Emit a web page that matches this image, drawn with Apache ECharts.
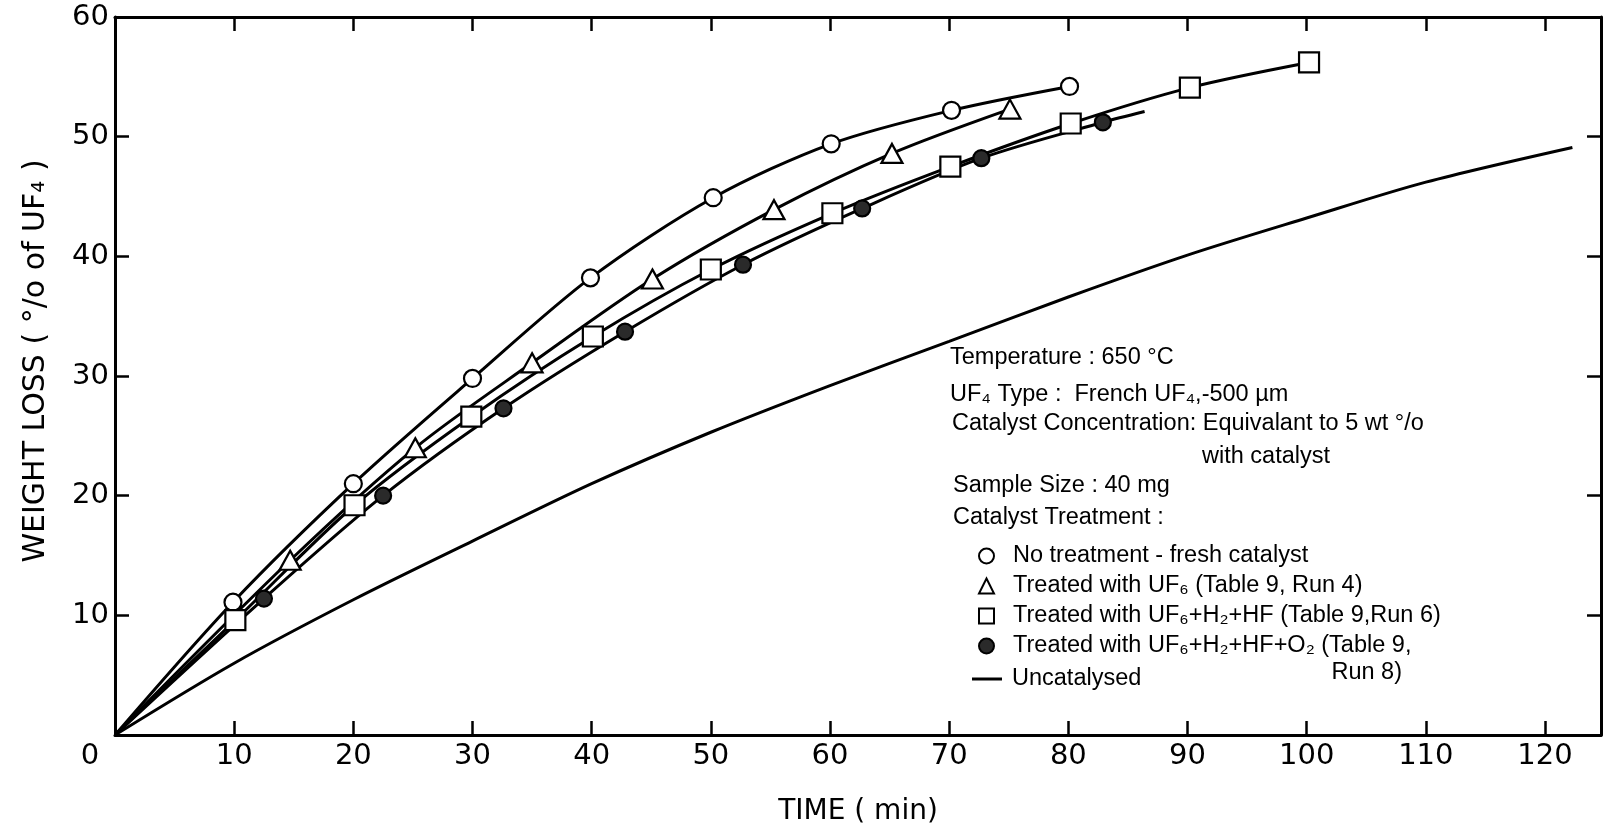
<!DOCTYPE html>
<html><head><meta charset="utf-8">
<script src="https://cdn.jsdelivr.net/npm/echarts@6/dist/echarts.min.js"></script>
<style>html,body{margin:0;padding:0;background:#fff}#c{width:1609px;height:827px}</style>
</head><body><div id="c"></div>
<script>
// ---- data ----
const origin = [0, 0];
const freshCatalyst = [[9.9,11.1],[20.0,21.0],[30.0,29.8],[39.9,38.2],[50.2,44.9],[60.1,49.4],[70.2,52.2],[80.1,54.2]];
const treatedUF6 = [[14.7,14.6],[25.2,24.0],[35.0,31.1],[45.1,38.1],[55.3,43.9],[65.2,48.6],[75.1,52.3]];
const treatedUF6H2HF = [[10.1,9.6],[20.1,19.2],[29.9,26.6],[40.1,33.3],[50.0,38.9],[60.2,43.6],[70.1,47.5],[80.2,51.1],[90.2,54.1],[100.2,56.2]];
const treatedUF6H2HFO2 = [[12.5,11.4],[22.5,20.0],[32.6,27.3],[42.8,33.7],[52.7,39.3],[62.7,44.0],[72.7,48.2],[82.9,51.2]];
const treatedO2CurveEnd = [86.4, 52.1];
const uncatalysed = [[0,0],[10,6.0],[20,11.3],[30,16.2],[40,21.0],[50,25.3],[60,29.2],[70,32.9],[80,36.6],[90,40.1],[100,43.2],[110,46.2],[122.3,49.1]];
const legendLabels = [
  'No treatment - fresh catalyst',
  'Treated with UF\u2086 (Table 9, Run 4)',
  'Treated with UF\u2086+H\u2082+HF (Table 9,Run 6)',
  'Treated with UF\u2086+H\u2082+HF+O\u2082 (Table 9,',
  'Uncatalysed'
];
const infoText = [
  'Temperature : 650 \u00B0C',
  'UF\u2084 Type :  French UF\u2084,-500 \u00B5m',
  'Catalyst Concentration: Equivalant to 5 wt \u00B0/o',
  'with catalyst',
  'Sample Size : 40 mg',
  'Catalyst Treatment :',
  'Run 8)'
];
const xTitle = 'TIME ( min)';
const yTitle = 'WEIGHT LOSS ( \u00B0/o of UF\u2084 )';

// ---- chart ----
const chart = echarts.init(document.getElementById('c'), null, {renderer: 'canvas'});
const TXT = '"Liberation Sans", Arial, sans-serif';
const NUM = '"DejaVu Sans", sans-serif';
const black = '#000';
const TXT_SIZE = 23.5;

function curve(data) {
  return {type: 'line', data: data, smooth: 0.3, symbol: 'none',
    lineStyle: {color: black, width: 3}, z: 2, silent: true};
}
function marks(name, data, symbol, size, fill) {
  return {type: 'scatter', name: name, data: data, symbol: symbol, symbolSize: size,
    itemStyle: {color: fill, borderColor: black, borderWidth: 2.2, opacity: 1}, z: 4, silent: true};
}
function txt(t, x, y, align) {
  return {type: 'text', x: x, y: y, silent: true,
    style: {text: t, font: TXT_SIZE + 'px ' + TXT, fill: black, align: align || 'left', verticalAlign: 'middle'}};
}

const axisLine = {show: true, onZero: false, lineStyle: {color: black, width: 3}};
const axisTick = {show: true, inside: true, length: 14, lineStyle: {color: black, width: 2.5}};
const legendText = {color: black, fontFamily: TXT, fontSize: TXT_SIZE, lineHeight: 22};

const option = {
  animation: false,
  backgroundColor: '#fff',
  grid: {left: 115, right: 8, top: 17, bottom: 92, containLabel: false, outerBoundsMode: 'none'},
  xAxis: [
    {type: 'value', position: 'bottom', min: 0, max: 124.7, interval: 10,
     axisLine: axisLine, axisTick: axisTick, splitLine: {show: false},
     axisLabel: {color: black, fontFamily: NUM, fontSize: 29, margin: 7, showMaxLabel: false,
       formatter: v => v === 0 ? '{z|0}' : String(v),
       rich: {z: {padding: [0, 50, 0, 0], fontFamily: NUM, fontSize: 29, color: black}}},
     name: xTitle, nameLocation: 'middle', nameGap: 63,
     nameTextStyle: {color: black, fontFamily: NUM, fontSize: 28}},
    {type: 'value', position: 'top', min: 0, max: 124.7, interval: 10,
     axisLine: axisLine, axisTick: axisTick, splitLine: {show: false}, axisLabel: {show: false}}
  ],
  yAxis: [
    {type: 'value', position: 'left', min: 0, max: 60, interval: 10,
     axisLine: axisLine, axisTick: axisTick, splitLine: {show: false},
     axisLabel: {color: black, fontFamily: NUM, fontSize: 29, margin: 6, showMinLabel: false},
     name: yTitle, nameLocation: 'middle', nameGap: 64,
     nameTextStyle: {color: black, fontFamily: NUM, fontSize: 30, padding: [0, 0, 0, 30]}},
    {type: 'value', position: 'right', min: 0, max: 60, interval: 10,
     axisLine: axisLine, axisTick: axisTick, splitLine: {show: false}, axisLabel: {show: false}}
  ],
  legend: [
    {orient: 'vertical', left: 973, top: 539, itemWidth: 15, itemHeight: 15, itemGap: 6,
     selectedMode: false, data: legendLabels.slice(0, 4),
     textStyle: Object.assign({padding: [0, 0, 0, 14]}, legendText)},
    {orient: 'vertical', left: 967, top: 662, itemWidth: 30, itemHeight: 3,
     selectedMode: false, data: [{name: legendLabels[4], icon: 'rect'}],
     itemStyle: {color: black, borderWidth: 0},
     textStyle: Object.assign({padding: [0, 0, 0, 5]}, legendText)}
  ],
  graphic: [
    txt(infoText[0], 950, 358),
    txt(infoText[1], 950, 395),
    txt(infoText[2], 952, 424),
    txt(infoText[3], 1202, 457),
    txt(infoText[4], 953, 486),
    txt(infoText[5], 953, 518),
    txt(infoText[6], 1402, 673, 'right')
  ],
  series: [
    curve([origin].concat(freshCatalyst)),
    curve([origin].concat(treatedUF6)),
    curve([origin].concat(treatedUF6H2HF)),
    curve([origin].concat(treatedUF6H2HFO2, [treatedO2CurveEnd])),
    marks(legendLabels[0], freshCatalyst, 'circle', 17, '#fff'),
    marks(legendLabels[1], treatedUF6, 'triangle', [21, 19], '#fff'),
    marks(legendLabels[2], treatedUF6H2HF, 'rect', 20, '#fff'),
    marks(legendLabels[3], treatedUF6H2HFO2, 'circle', 16, '#2a2a2a'),
    {type: 'line', name: legendLabels[4], data: uncatalysed, smooth: 0.3,
     symbol: 'none', lineStyle: {color: black, width: 3}, itemStyle: {color: black}, z: 2, silent: true}
  ]
};
chart.setOption(option);
</script>
</body></html>
